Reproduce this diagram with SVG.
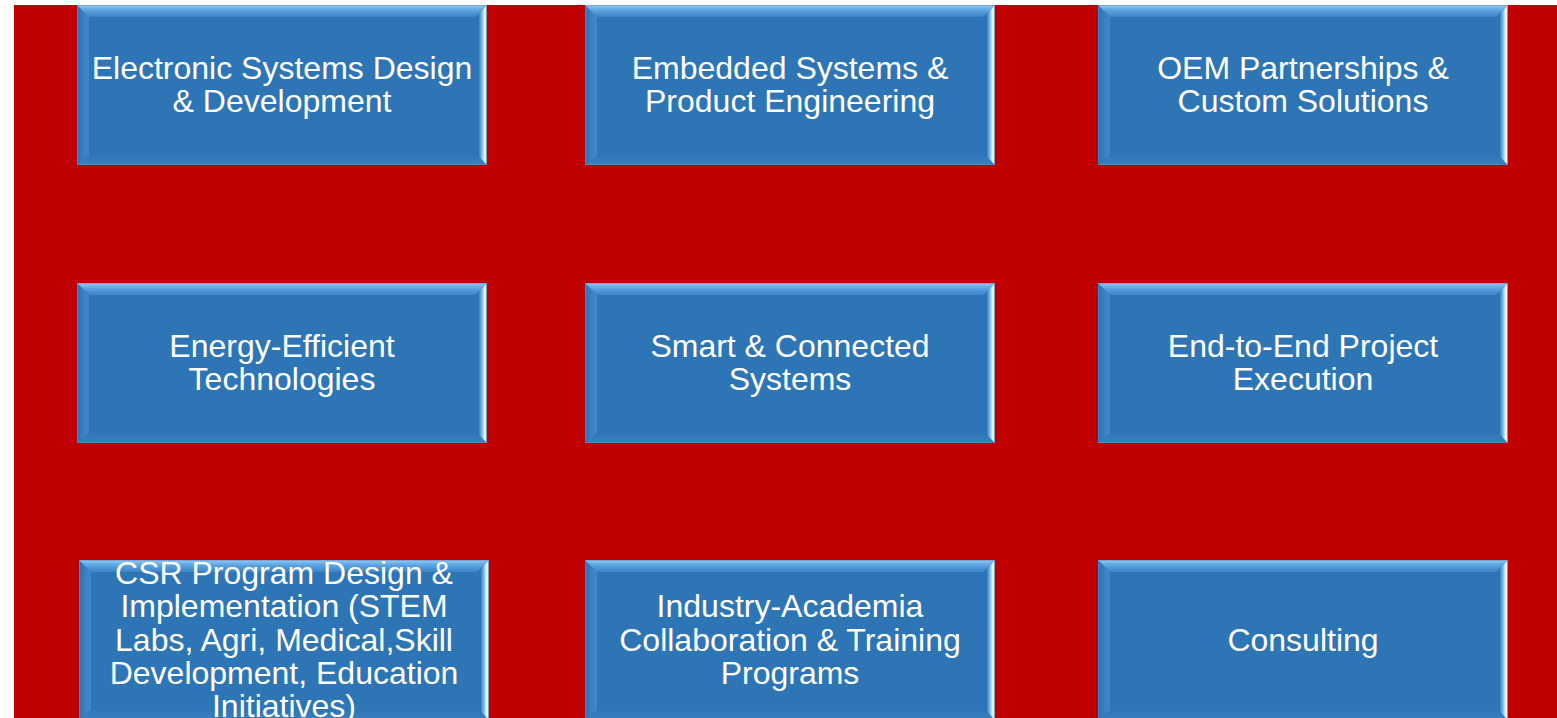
<svg xmlns="http://www.w3.org/2000/svg" xmlns:xlink="http://www.w3.org/1999/xlink" width="1557" height="718" viewBox="0 0 1557 718">
<style>
.t{font-family:"Liberation Sans",Arial,sans-serif;font-size:32px;fill:#ffffff;text-anchor:middle}
</style>
<defs>
<linearGradient id="gTop" x1="0" y1="0" x2="0" y2="1">
<stop offset="0" stop-color="#A8CCEA"/>
<stop offset="0.15" stop-color="#7DBDF0"/>
<stop offset="0.45" stop-color="#5BA2E0"/>
<stop offset="1" stop-color="#3B84C6"/>
</linearGradient>
<linearGradient id="gLeft" x1="0" y1="0" x2="1" y2="0">
<stop offset="0" stop-color="#3070B0"/>
<stop offset="0.6" stop-color="#3A82C4"/>
<stop offset="1" stop-color="#3E88CA"/>
</linearGradient>
<linearGradient id="gRight" x1="0" y1="0" x2="1" y2="0">
<stop offset="0" stop-color="#3A84C8"/>
<stop offset="0.35" stop-color="#6FB8EC"/>
<stop offset="0.7" stop-color="#E6FAFF"/>
<stop offset="0.88" stop-color="#CFF2FF"/>
<stop offset="1" stop-color="#4A8FD0"/>
</linearGradient>
<linearGradient id="gBot" x1="0" y1="0" x2="0" y2="1">
<stop offset="0" stop-color="#2F76B7"/>
<stop offset="1" stop-color="#3A80C2"/>
</linearGradient>
<g id="box">
<rect x="0" y="0" width="410" height="160" fill="#2E75B6"/>
<polygon points="0,160 410,160 398,150 12,150" fill="url(#gBot)"/>
<polygon points="0,0 12,12 12,150 0,160" fill="url(#gLeft)"/>
<polygon points="410,0 410,160 402,152 402,8" fill="url(#gRight)"/>
<polygon points="0,0 410,0 402,8 398,12 12,12" fill="url(#gTop)"/>
<rect x="0.5" y="0.5" width="409" height="159" fill="none" stroke="#5B8FC4" stroke-width="1" stroke-opacity="0.6"/>
</g>
</defs>
<rect x="14" y="5" width="1543" height="713" fill="#C00000"/>
<g id="connectors"/>
<g id="n1"><use xlink:href="#box" x="77" y="5"/><text class="t" x="282" y="79">Electronic Systems Design</text><text class="t" x="282" y="112">&amp; Development</text></g>
<g id="n2"><use xlink:href="#box" x="585" y="5"/><text class="t" x="790" y="79">Embedded Systems &amp;</text><text class="t" x="790" y="112">Product Engineering</text></g>
<g id="n3"><use xlink:href="#box" x="1098" y="5"/><text class="t" x="1303" y="79">OEM Partnerships &amp;</text><text class="t" x="1303" y="112">Custom Solutions</text></g>
<g id="n4"><use xlink:href="#box" x="77" y="283"/><text class="t" x="282" y="357">Energy-Efficient</text><text class="t" x="282" y="390">Technologies</text></g>
<g id="n5"><use xlink:href="#box" x="585" y="283"/><text class="t" x="790" y="357">Smart &amp; Connected</text><text class="t" x="790" y="390">Systems</text></g>
<g id="n6"><use xlink:href="#box" x="1098" y="283"/><text class="t" x="1303" y="357">End-to-End Project</text><text class="t" x="1303" y="390">Execution</text></g>
<g id="n7"><use xlink:href="#box" x="79" y="560"/><text class="t" x="284" y="584">CSR Program Design &amp;</text><text class="t" x="284" y="617">Implementation (STEM</text><text class="t" x="284" y="651">Labs, Agri, Medical,Skill</text><text class="t" x="284" y="684">Development, Education</text><text class="t" x="284" y="717">Initiatives)</text></g>
<g id="n8"><use xlink:href="#box" x="585" y="560"/><text class="t" x="790" y="617">Industry-Academia</text><text class="t" x="790" y="651">Collaboration &amp; Training</text><text class="t" x="790" y="684">Programs</text></g>
<g id="n9"><use xlink:href="#box" x="1098" y="560"/><text class="t" x="1303" y="651">Consulting</text></g>
</svg>
